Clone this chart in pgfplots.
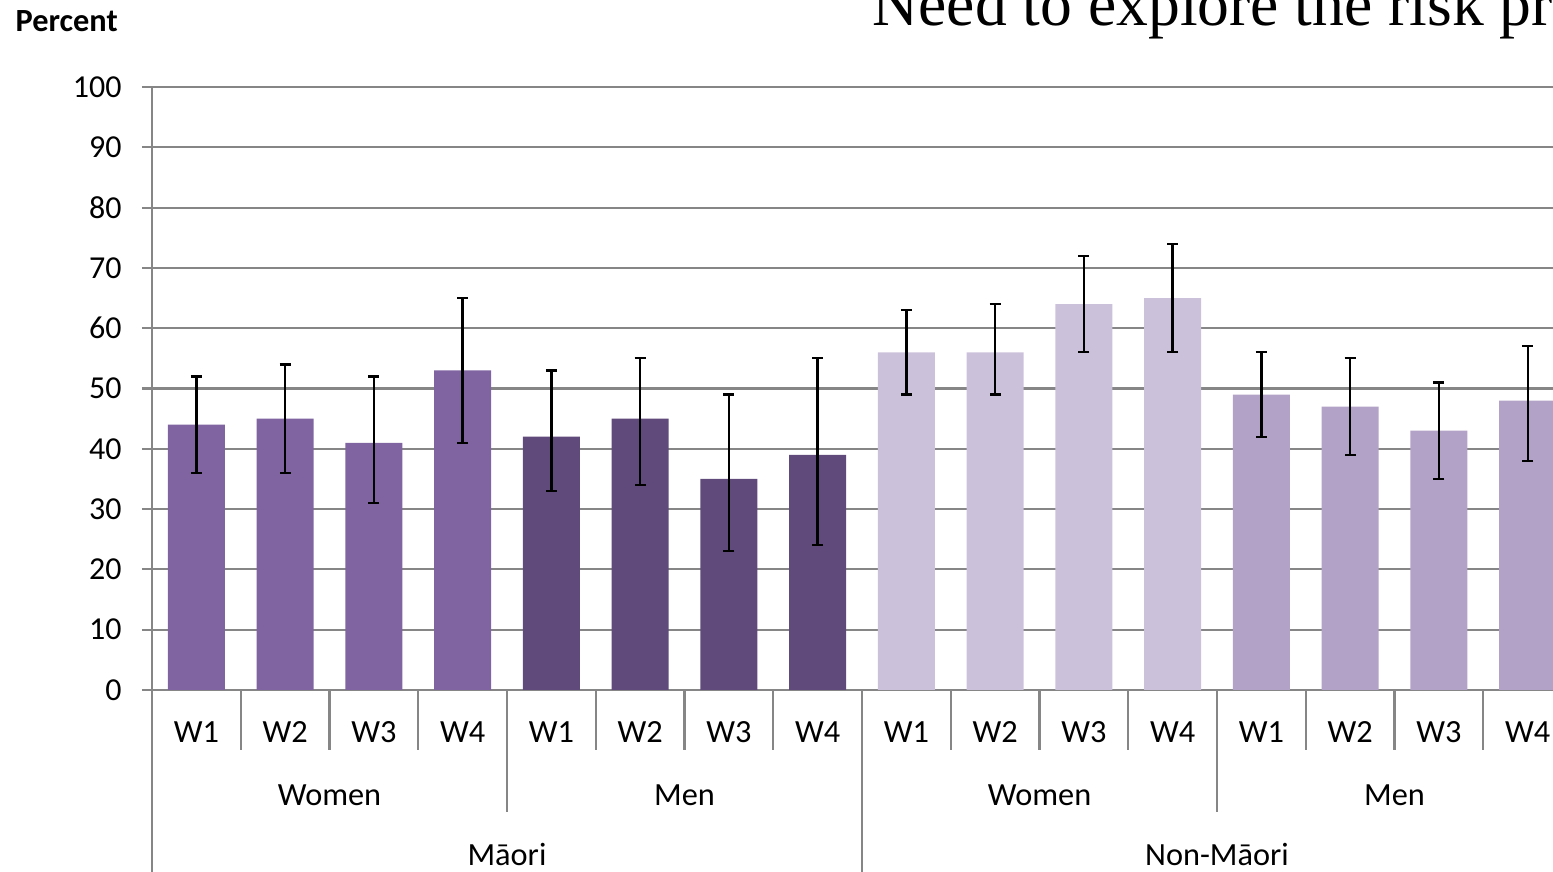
\documentclass[border=0pt]{standalone}
\usepackage{pgfplots}
\pgfplotsset{compat=1.18}
\usepackage{pgfplotstable}
\usepackage{fontspec}
\setmainfont{Carlito}
\newfontfamily\titlefont{Liberation Serif}
\definecolor{mw}{HTML}{8064A2}
\definecolor{mm}{HTML}{604A7B}
\definecolor{nw}{HTML}{CCC1DA}
\definecolor{nm}{HTML}{B3A2C7}
\definecolor{gridgray}{HTML}{868686}

\pgfplotstableread{
x y ep em
0 44 8 8
1 45 9 9
2 41 11 10
3 53 12 12
}\maoriwomen
\pgfplotstableread{
x y ep em
4 42 11 9
5 45 10 11
6 35 14 12
7 39 16 15
}\maorimen
\pgfplotstableread{
x y ep em
8 56 7 7
9 56 8 7
10 64 8 8
11 65 9 9
}\nonmaoriwomen
\pgfplotstableread{
x y ep em
12 49 7 7
13 47 8 8
14 43 8 8
15 48 9 10
}\nonmaorimen

\begin{document}
\begin{tikzpicture}
\path[use as bounding box] (0,0) rectangle (15.53,8.72);
\begin{scope}[overlay]
\clip (0,0) rectangle (15.53,8.72);
\node[anchor=base west, inner sep=0pt, font=\bfseries\fontsize{9.2}{11}\selectfont] at (0.15,8.40) {Percent};
\node[anchor=base west, inner sep=0pt, font=\titlefont\fontsize{18.1}{21}\selectfont] at (8.72,8.46) {Need to explore the risk profile};
\begin{axis}[
  at={(1.52cm,1.82cm)}, anchor=south west,
  scale only axis, width=14.20cm, height=6.03cm,
  xmin=-0.5, xmax=15.5, ymin=0, ymax=100,
  clip=false,
  axis lines*=left,
  axis line style={gridgray, line width=0.6pt},
  ytick={0,10,...,100},
  ymajorgrids, grid style={gridgray, line width=0.6pt},
  tick align=outside,
  major tick length=0.1cm,
  ytick style={gridgray, line width=0.6pt},
  xtick style={draw=none},
  xtick={0,...,15},
  xticklabels={W1,W2,W3,W4,W1,W2,W3,W4,W1,W2,W3,W4,W1,W2,W3,W4},
  xticklabel style={anchor=base, yshift=-0.43cm, font=\fontsize{9.2}{11}\selectfont},
  yticklabel style={anchor=east, xshift=-0.08cm, font=\fontsize{9.1}{11}\selectfont},
  /pgf/number format/assume math mode=true,
  error bars/error bar style={black, line width=0.65pt},
  error bars/error mark options={rotate=90, black, mark size=0.055cm, line width=0.65pt},
]
\addplot[ybar, bar width=0.57cm, fill=mw, draw=none,
  error bars/.cd, y dir=both, y explicit]
  table[x=x, y=y, y error plus=ep, y error minus=em] {\maoriwomen};
\addplot[ybar, bar width=0.57cm, fill=mm, draw=none,
  error bars/.cd, y dir=both, y explicit]
  table[x=x, y=y, y error plus=ep, y error minus=em] {\maorimen};
\addplot[ybar, bar width=0.57cm, fill=nw, draw=none,
  error bars/.cd, y dir=both, y explicit]
  table[x=x, y=y, y error plus=ep, y error minus=em] {\nonmaoriwomen};
\addplot[ybar, bar width=0.57cm, fill=nm, draw=none,
  error bars/.cd, y dir=both, y explicit]
  table[x=x, y=y, y error plus=ep, y error minus=em] {\nonmaorimen};
\pgfplotsinvokeforeach{0.5,1.5,2.5,4.5,5.5,6.5,8.5,9.5,10.5,12.5,13.5,14.5}{
  \draw[gridgray, line width=0.6pt] (axis cs:#1,0) -- ([yshift=-0.60cm]axis cs:#1,0);
}
\pgfplotsinvokeforeach{3.5,11.5,15.5}{
  \draw[gridgray, line width=0.6pt] (axis cs:#1,0) -- ([yshift=-1.22cm]axis cs:#1,0);
}
\pgfplotsinvokeforeach{-0.5,7.5}{
  \draw[gridgray, line width=0.6pt] (axis cs:#1,0) -- ([yshift=-2.0cm]axis cs:#1,0);
}
\node[anchor=base, font=\fontsize{9.2}{11}\selectfont] at ([yshift=-1.16cm]axis cs:1.5,0) {Women};
\node[anchor=base, font=\fontsize{9.2}{11}\selectfont] at ([yshift=-1.16cm]axis cs:5.5,0) {Men};
\node[anchor=base, font=\fontsize{9.2}{11}\selectfont] at ([yshift=-1.16cm]axis cs:9.5,0) {Women};
\node[anchor=base, font=\fontsize{9.2}{11}\selectfont] at ([yshift=-1.16cm]axis cs:13.5,0) {Men};
\node[anchor=base, font=\fontsize{9.2}{11}\selectfont] at ([yshift=-1.76cm]axis cs:3.5,0) {Māori};
\node[anchor=base, font=\fontsize{9.2}{11}\selectfont] at ([yshift=-1.76cm]axis cs:11.5,0) {Non-Māori};
\end{axis}
\end{scope}
\end{tikzpicture}
\end{document}
